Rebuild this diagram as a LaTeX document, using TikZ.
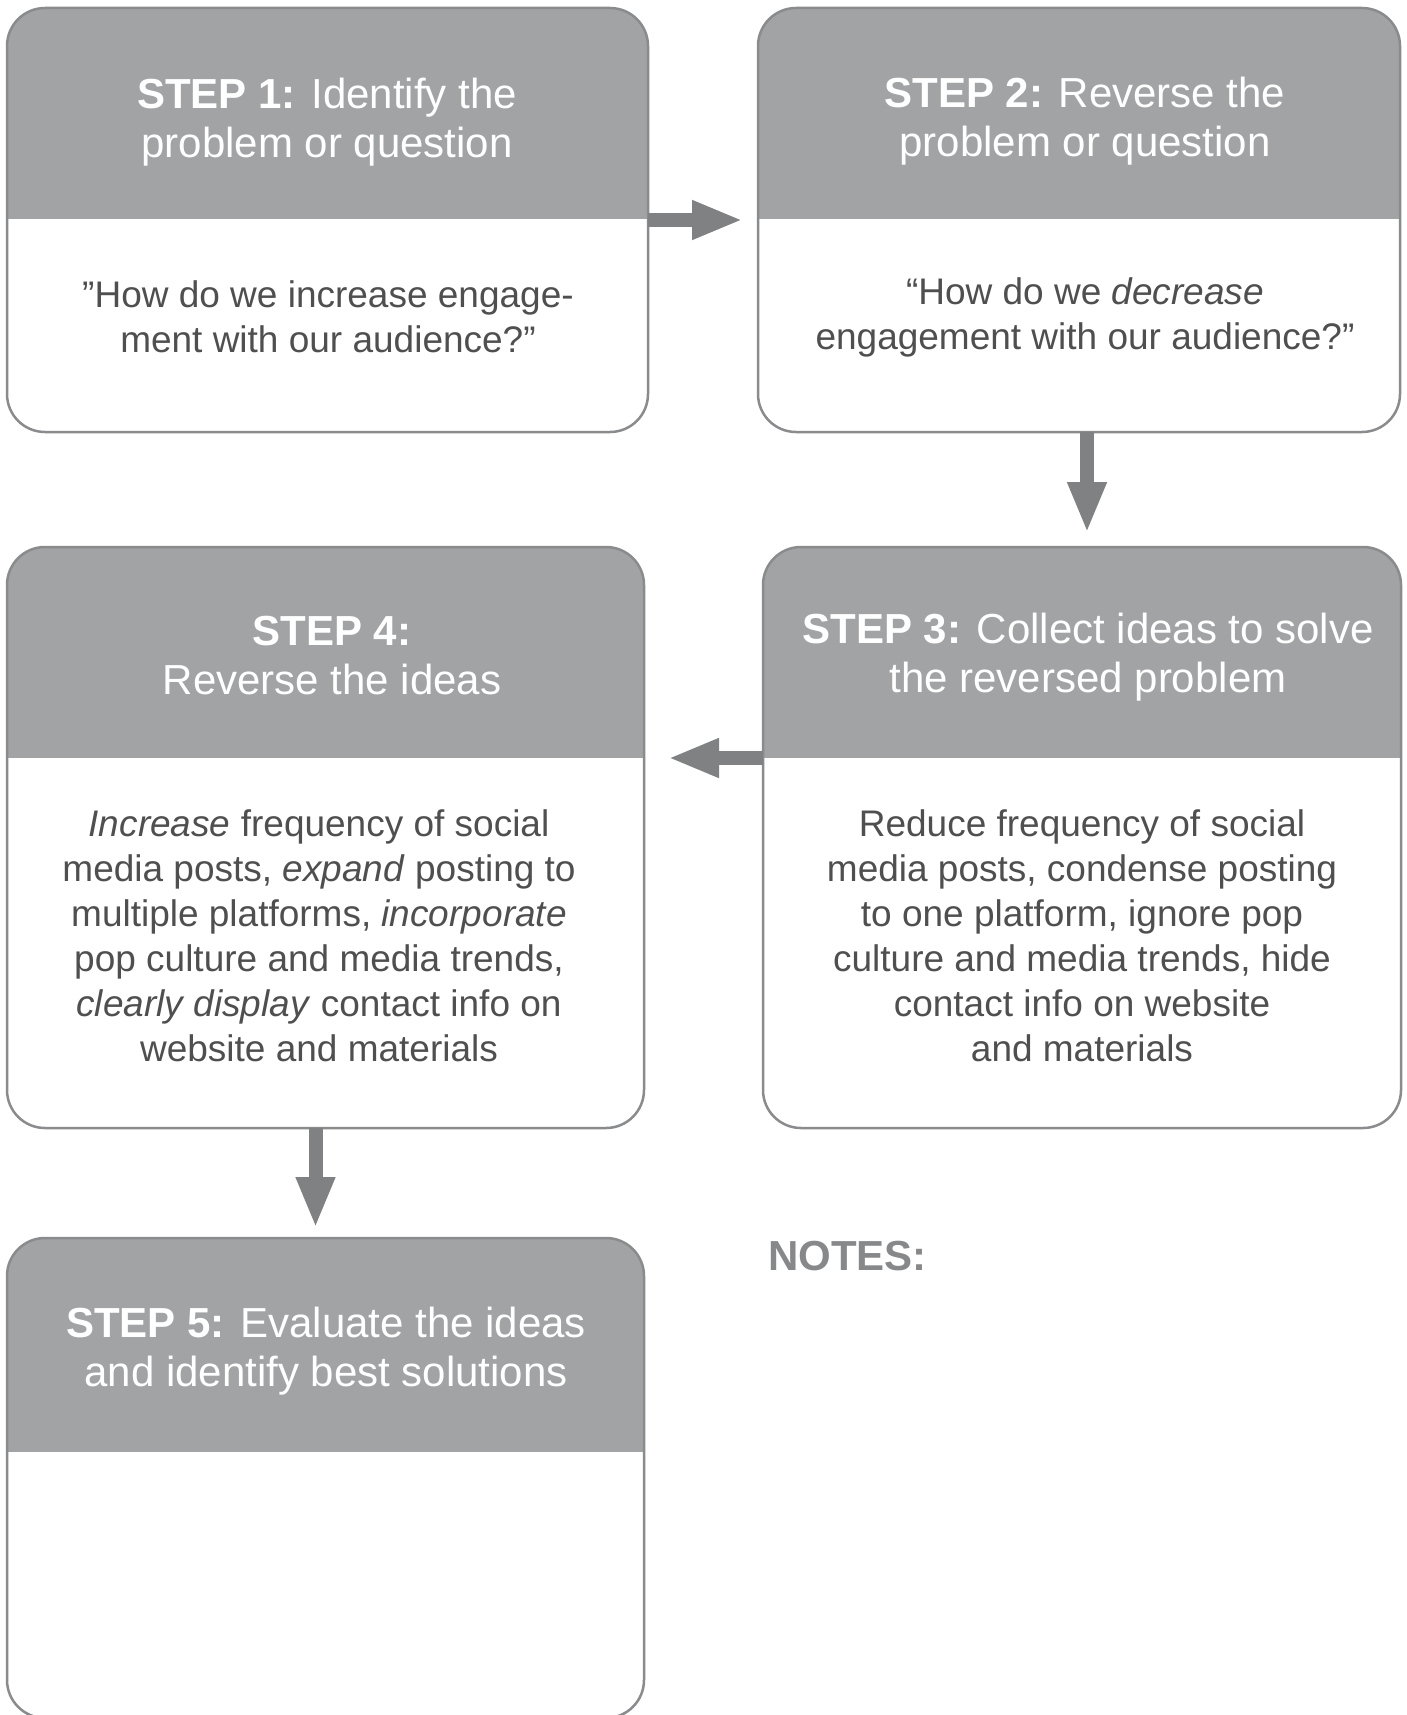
\documentclass[tikz,border=0pt]{standalone}
\usepackage{fontspec}
\setmainfont{Liberation Sans}
\usetikzlibrary{arrows.meta}
\definecolor{hdrc}{HTML}{A2A3A5}
\definecolor{bordc}{HTML}{8A8B8D}
\definecolor{arrc}{HTML}{808183}
\definecolor{bodyc}{HTML}{4F4F4F}
\definecolor{notec}{HTML}{87888A}
\newcommand{\hdrsize}{\fontsize{42}{49}\selectfont}
\newcommand{\bdysize}{\fontsize{37}{45}\selectfont}
\newcommand{\stepcard}[6]{%
  \node[cardshape, minimum width=#4pt, minimum height=#5pt] (#1) at (#2,#3) {};
  \coordinate (#1hd) at (0,#6);
  \begin{scope}
    \clip[rounded corners=38pt] (#1.north west) rectangle (#1.south east);
    \fill[white] (#1.north west) rectangle (#1.south east);
    \fill[hdrc] (#1.north west) rectangle (#1.east |- #1hd);
  \end{scope}
  \draw[cardline] (#1.north west) rectangle (#1.south east);
}
\begin{document}
\begin{tikzpicture}[x=1pt,y=-1pt,
  cardshape/.style={rectangle, inner sep=0pt, outer sep=0pt},
  cardline/.style={draw=bordc, line width=2.5pt, rounded corners=38pt},
  hdrtext/.style={text=white, align=center, inner sep=0pt, font=\hdrsize},
  bodytext/.style={text=bodyc, align=center, inner sep=0pt, font=\bdysize},
  notetext/.style={text=notec, inner sep=0pt, font=\fontsize{42}{49}\selectfont\bfseries},
  flowarrow/.style={draw=arrc, line width=14pt, -{Triangle[width=36pt,length=51pt]}}]
\useasboundingbox (0,0) rectangle (1407,1715);
\clip (0,0) rectangle (1407,1715);

\stepcard{s1}{327.5}{220}{641}{424}{219}
\stepcard{s2}{1079}{220}{642}{424}{219}
\stepcard{s3}{1082}{837.5}{638}{581}{758}
\stepcard{s4}{325.5}{837.5}{637}{581}{758}
\stepcard{s5}{325.5}{1478}{637}{480}{1452}

\node[hdrtext] (h1) at (327,122) {\textbf{STEP 1:} Identify the\\problem or question};
\node[bodytext] (b1) at (328,317) {”How do we increase engage-\\ment with our audience?”};

\node[hdrtext] (h2) at (1085,121) {\textbf{STEP 2:} Reverse the\\problem or question};
\node[bodytext] (b2) at (1085,317) {“How do we \textit{decrease}\\engagement with our audience?”};

\node[hdrtext] (h3) at (1088,657) {\textbf{STEP 3:} Collect ideas to solve\\the reversed problem};
\node[bodytext] (b3) at (1082,936) {Reduce frequency of social\\media posts, condense posting\\to one platform, ignore pop\\culture and media trends, hide\\contact info on website\\and materials};

\node[hdrtext] (h4) at (332,656) {\textbf{STEP 4:}\\Reverse the ideas};
\node[bodytext] (b4) at (319,936) {\textit{Increase} frequency of social\\media posts, \textit{expand} posting to\\multiple platforms, \textit{incorporate}\\pop culture and media trends,\\\textit{clearly display} contact info on\\website and materials};

\node[hdrtext] (h5) at (326,1351) {\textbf{STEP 5:} Evaluate the ideas\\and identify best solutions};

\node[notetext, anchor=west] (notes) at (768,1256) {NOTES:};

\draw[flowarrow] (s1.east) -- ([xshift=-15pt]s2.west);
\draw[flowarrow] ([xshift=8pt]s2.south) -- ([xshift=5pt,yshift=14pt]s3.north);
\draw[flowarrow] ([yshift=79.5pt]s3.west) -- ([xshift=24pt,yshift=79.5pt]s4.east);
\draw[flowarrow] ([xshift=-10pt]s4.south) -- ([xshift=-10pt,yshift=10pt]s5.north);
\end{tikzpicture}
\end{document}
